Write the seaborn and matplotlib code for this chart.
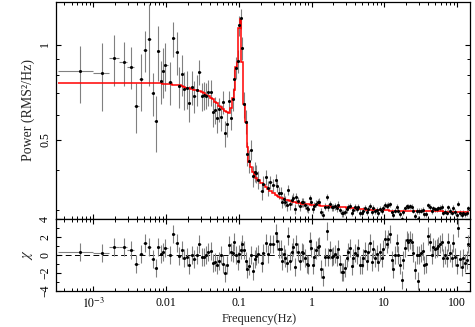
import numpy as np
import matplotlib
matplotlib.use('Agg')
import matplotlib.pyplot as plt
import seaborn as sns
from matplotlib.ticker import FixedLocator, FixedFormatter, NullFormatter, LogLocator, MultipleLocator

# Power spectrum
# frequency of each bin (Hz)
freq = [0.00065, 0.0013, 0.00195, 0.0026, 0.00325, 0.0039, 0.00455, 0.0052, 0.00585, 0.0065,
        0.00715, 0.0078, 0.00845, 0.0091, 0.00975,
        0.01131, 0.01256, 0.01390, 0.01519, 0.01644, 0.01774, 0.01908, 0.02078, 0.02249, 0.02443,
        0.02636, 0.02862, 0.03088, 0.03343, 0.03583, 0.03806, 0.04107, 0.04346, 0.04706, 0.04997,
        0.05375, 0.05726, 0.06141, 0.06480, 0.06883, 0.07401, 0.07811, 0.08243, 0.08671, 0.09153,
        0.09658, 0.1006, 0.1055, 0.1117, 0.1179, 0.1244, 0.1309, 0.1381, 0.1458, 0.1553,
        0.1644, 0.1740, 0.1837,
        0.2063, 0.2175, 0.2342, 0.2495, 0.2687, 0.2985, 0.3215, 0.3388, 0.3573, 0.3766,
        0.3971, 0.4185, 0.4366, 0.4554, 0.4800, 0.5061, 0.5336, 0.5565, 0.5929, 0.6185,
        0.6591, 0.6948, 0.7325, 0.7722, 0.8141, 0.8582, 0.9047, 0.9436, 0.9843, 1.038,
        1.094, 1.153, 1.216, 1.282, 1.351, 1.455, 1.534, 1.617, 1.705, 1.797,
        1.894, 1.997, 2.105, 2.220, 2.340, 2.467, 2.600, 2.742, 2.890, 3.047,
        3.212, 3.386, 3.570, 3.763, 3.967, 4.182, 4.409, 4.648, 4.898, 5.164,
        5.444, 5.739, 6.051, 6.378, 6.724, 7.088, 7.473, 7.877, 8.304, 8.754,
        9.229, 9.730, 10.26, 10.81, 11.40, 12.02, 12.67, 13.35, 14.08, 14.84,
        15.65, 16.49, 17.39, 18.33, 19.33, 20.37, 21.48, 22.64, 23.87, 25.16,
        26.53, 27.96, 29.17, 30.43, 32.08, 33.81, 35.65, 37.58, 40.04, 42.21,
        44.97, 47.41, 49.98, 52.69, 55.54, 58.56, 61.73, 65.07, 68.59, 72.33,
        76.24, 80.37, 84.72, 89.33, 94.17, 99.27, 104.6, 110.3, 116.3, 122.6,
        129.2, 136.3, 143.6]

# power (RMS^2/Hz)
power = [0.822, 0.814, 0.904, 0.878, 0.851, 0.639, 0.776, 0.961, 1.039, 0.704,
         0.573, 0.956, 0.767, 0.826, 0.861,
         0.763, 1.046, 0.949, 0.739, 0.807, 0.721, 0.727, 0.655, 0.732, 0.687,
         0.718, 0.817, 0.687, 0.692, 0.689, 0.706, 0.706, 0.610, 0.620, 0.584,
         0.624, 0.588, 0.659, 0.524, 0.560, 0.664, 0.585, 0.671, 0.778, 0.845,
         0.887, 1.15, 1.21, 0.973, 0.647, 0.570, 0.452, 0.428, 0.464, 0.384,
         0.396, 0.391, 0.373,
         0.345, 0.363, 0.380, 0.351, 0.367, 0.359, 0.374, 0.357, 0.339, 0.338,
         0.317, 0.325, 0.318, 0.311, 0.347, 0.312, 0.323, 0.328, 0.302, 0.329,
         0.319, 0.308, 0.317, 0.317, 0.310, 0.304, 0.302, 0.326, 0.318, 0.302,
         0.309, 0.314, 0.317, 0.318, 0.296, 0.289, 0.307, 0.329, 0.306, 0.312,
         0.305, 0.306, 0.308, 0.304, 0.311, 0.299, 0.292, 0.292, 0.295, 0.301,
         0.307, 0.309, 0.294, 0.300, 0.305, 0.302, 0.307, 0.294, 0.293, 0.298,
         0.304, 0.295, 0.302, 0.309, 0.295, 0.303, 0.297, 0.299, 0.294, 0.302,
         0.297, 0.304, 0.311, 0.308, 0.311, 0.312, 0.295, 0.288, 0.298, 0.306,
         0.298, 0.291, 0.281, 0.295, 0.303, 0.308, 0.307, 0.308, 0.307, 0.298,
         0.287, 0.297, 0.280, 0.297, 0.298, 0.300, 0.290, 0.291, 0.310, 0.306,
         0.297, 0.303, 0.301, 0.301, 0.303, 0.304, 0.306, 0.294, 0.296, 0.294,
         0.305, 0.297, 0.294, 0.304, 0.295, 0.289, 0.314, 0.293, 0.288, 0.294,
         0.291, 0.293, 0.303]

# 1-sigma error on the power
power_err = [0.17, 0.20, 0.165, 0.137, 0.13, 0.114, 0.16, 0.145, 0.30, 0.11,
             0.115, 0.19, 0.12, 0.15, 0.15,
             0.12, 0.13, 0.15, 0.11, 0.12, 0.10, 0.10, 0.085, 0.09, 0.08,
             0.08, 0.075, 0.07, 0.07, 0.065, 0.065, 0.065, 0.06, 0.06, 0.06,
             0.055, 0.055, 0.055, 0.05, 0.05, 0.05, 0.05, 0.055, 0.06, 0.07,
             0.075, 0.085, 0.09, 0.08, 0.06, 0.05, 0.04, 0.035, 0.033, 0.03,
             0.028, 0.026, 0.025,
             0.022, 0.021, 0.020, 0.019, 0.018, 0.017, 0.016, 0.016, 0.015, 0.015,
             0.014, 0.014, 0.013, 0.013, 0.012, 0.012, 0.012, 0.011, 0.011, 0.011,
             0.010, 0.010, 0.010, 0.010, 0.009, 0.009, 0.009, 0.009, 0.009, 0.008,
             0.008, 0.008, 0.008, 0.008, 0.008, 0.008, 0.008, 0.008, 0.008, 0.008,
             0.008, 0.008, 0.008, 0.008, 0.008, 0.007, 0.007, 0.007, 0.007, 0.007,
             0.007, 0.007, 0.007, 0.007, 0.007, 0.007, 0.007, 0.007, 0.007, 0.007,
             0.007, 0.007, 0.007, 0.007, 0.007, 0.007, 0.007, 0.007, 0.007, 0.007,
             0.007, 0.007, 0.007, 0.007, 0.007, 0.006, 0.006, 0.006, 0.006, 0.006,
             0.006, 0.006, 0.006, 0.006, 0.006, 0.006, 0.006, 0.006, 0.006, 0.006,
             0.006, 0.006, 0.006, 0.006, 0.006, 0.006, 0.006, 0.006, 0.006, 0.006,
             0.006, 0.006, 0.006, 0.006, 0.006, 0.006, 0.006, 0.006, 0.006, 0.006,
             0.006, 0.006, 0.006, 0.006, 0.006, 0.006, 0.006, 0.006, 0.006, 0.006,
             0.006, 0.006, 0.006]

# best-fit model, one value per bin
model = [0.757, 0.757, 0.757, 0.757, 0.757, 0.757, 0.757, 0.756, 0.756, 0.755,
         0.755, 0.754, 0.753, 0.752, 0.751,
         0.749, 0.747, 0.745, 0.742, 0.738, 0.734, 0.730, 0.726, 0.723, 0.720,
         0.716, 0.712, 0.706, 0.700, 0.693, 0.686, 0.678, 0.671, 0.660, 0.651,
         0.641, 0.632, 0.623, 0.616, 0.610, 0.606, 0.630, 0.676, 0.718, 0.850,
         0.880, 1.13, 1.20, 0.880, 0.650, 0.570, 0.475, 0.425, 0.410, 0.396,
         0.386, 0.378, 0.372,
         0.364, 0.359, 0.354, 0.350, 0.345, 0.339, 0.335, 0.332, 0.330, 0.328,
         0.326, 0.324, 0.323, 0.322, 0.321, 0.320, 0.319, 0.318, 0.317, 0.316,
         0.315, 0.315, 0.314, 0.314, 0.313, 0.313, 0.312, 0.312, 0.311, 0.311,
         0.311, 0.310, 0.310, 0.310, 0.309, 0.309, 0.309, 0.308, 0.308, 0.308,
         0.307, 0.307, 0.307, 0.306, 0.306, 0.306, 0.305, 0.305, 0.305, 0.304,
         0.304, 0.304, 0.303, 0.303, 0.303, 0.302, 0.302, 0.302, 0.301, 0.301,
         0.301, 0.300, 0.300, 0.300, 0.300, 0.299, 0.299, 0.299, 0.299, 0.299,
         0.299, 0.299, 0.299, 0.299, 0.299, 0.298, 0.298, 0.298, 0.298, 0.298,
         0.298, 0.298, 0.298, 0.298, 0.298, 0.298, 0.298, 0.298, 0.298, 0.297,
         0.297, 0.297, 0.297, 0.297, 0.297, 0.297, 0.297, 0.297, 0.297, 0.297,
         0.297, 0.297, 0.297, 0.297, 0.297, 0.297, 0.297, 0.296, 0.296, 0.296,
         0.296, 0.296, 0.296, 0.296, 0.296, 0.296, 0.296, 0.296, 0.296, 0.296,
         0.296, 0.296, 0.296]

# residuals (data - model) / error
chi = [0.37, 0.26, 0.85, 0.85, 0.60, -1.03, 0.08, 1.30, 0.85, -0.45,
       -1.48, 0.93, 0.08, 0.37, 0.74,
       0.00, 2.30, 1.33, -0.07, 0.56, -0.30, -0.22, -1.10, 0.00, -0.48,
       0.00, 1.26, -0.26, -0.19, 0.00, 0.37, 0.44, -0.93, -0.82, -1.10,
       -0.67, 0.00, -1.00, -2.00, -1.10, 1.10, 0.37, 0.20, 1.40, 0.00,
       -0.67, 0.10, 0.60, 1.20, 0.56, -0.67, -1.55, -1.20, 0.00, -1.74,
       -0.50, -0.07, 0.15,
       -0.85, 0.19, 1.30, 0.07, 1.22, 1.19, 2.41, 1.56, 0.63, 0.67,
       -0.67, 0.07, -0.37, -0.85, 2.15, -0.63, 0.37, 0.93, -1.37, 1.19,
       0.37, -0.67, 0.30, 0.26, -0.30, -1.00, -1.11, 1.56, 0.74, -1.11,
       -0.26, 0.56, 0.93, 1.04, -1.59, -2.48, -0.19, 2.67, -0.19, 0.56,
       -0.19, -0.07, 0.11, -0.19, 0.63, -1.04, -1.85, -1.85, -1.41, -0.37,
       0.37, 0.74, -1.22, -0.37, 0.26, 0.00, 0.74, -1.11, -1.11, -0.37,
       0.44, -0.67, 0.30, 1.30, -0.74, 0.63, -0.30, 0.07, -0.74, 0.37,
       -0.30, 0.67, 1.74, 1.22, 1.78, 2.33, -0.56, -1.59, 0.00, 1.30,
       0.00, -1.11, -2.78, -0.56, 0.81, 1.67, 1.48, 1.67, 1.48, 0.19,
       -1.67, 0.00, -2.89, 0.00, 0.19, 0.44, -1.11, -1.04, 2.11, 1.48,
       0.00, 0.93, 0.67, 0.74, 1.00, 1.19, 1.48, -0.30, 0.00, -0.30,
       1.48, 0.19, -0.37, 1.37, -0.19, -1.11, 2.96, -0.48, -1.30, -0.37,
       -0.85, -0.56, 1.19]

# ---- style: pgplot-like look
sns.set_theme(style='ticks')
plt.rcParams['font.family'] = ['Liberation Serif', 'DejaVu Serif']
plt.rcParams.update({
    'mathtext.fontset': 'stix',
    'font.size': 8.5,
    'axes.edgecolor': 'black',
    'axes.linewidth': 0.9,
    'xtick.direction': 'in', 'ytick.direction': 'in',
    'xtick.top': True, 'ytick.right': True,
    'xtick.color': 'black', 'ytick.color': 'black',
    'xtick.major.size': 3.8, 'ytick.major.size': 3.8,
    'xtick.minor.size': 1.9, 'ytick.minor.size': 1.9,
    'xtick.major.width': 0.8, 'ytick.major.width': 0.8,
    'xtick.minor.width': 0.7, 'ytick.minor.width': 0.7,
    'xtick.labelsize': 8.5, 'ytick.labelsize': 8.5,
    'xtick.major.pad': 4, 'ytick.major.pad': 3.5,
})

f = np.array(freq)
# bin edges halfway between neighbouring frequencies
mids = (f[1:] + f[:-1]) / 2
edges = np.concatenate([[f[0] - (f[1] - f[0]) / 2], mids, [f[-1] + (f[-1] - f[-2]) / 2]])
xerr = [f - edges[:-1], edges[1:] - f]

fig = plt.figure(figsize=(4.75, 3.27), dpi=100)
ax1 = fig.add_axes([0.1179, 0.3303, 0.8716, 0.6651])
ax2 = fig.add_axes([0.1179, 0.1101, 0.8716, 0.2202], sharex=ax1)

# top panel: data + model
ax1.errorbar(freq, power, yerr=power_err, xerr=xerr, fmt='none',
             ecolor='0.5', elinewidth=0.8, capsize=0, zorder=1)
ax1.stairs(model, edges, baseline=None, color='red', lw=1.1, zorder=2)
sns.scatterplot(x=freq, y=power, ax=ax1, color='black', s=5, linewidth=0, zorder=3)

ax1.set_xscale('log')
ax1.set_yscale('log')
ax1.set_xlim(3.06e-4, 151)
ax1.set_ylim(0.2805, 1.368)
ax1.yaxis.set_major_locator(FixedLocator([0.5, 1]))
ax1.yaxis.set_major_formatter(FixedFormatter(['0.5', '1']))
ax1.yaxis.set_minor_locator(FixedLocator([0.3, 0.4, 0.6, 0.7, 0.8, 0.9]))
ax1.yaxis.set_minor_formatter(NullFormatter())
ax1.tick_params(axis='x', which='both', labelbottom=False)
ax1.tick_params(axis='y', labelrotation=90)
ax1.set_ylabel('Power (RMS²/Hz)', fontsize=10)
ax1.yaxis.set_label_coords(-0.05, 0.5)

# bottom panel: residuals
ax2.axhline(0, color='black', lw=0.7, ls=(0, (6, 3.5)), zorder=1)
ax2.errorbar(freq, chi, yerr=1, xerr=xerr, fmt='none',
             ecolor='0.5', elinewidth=0.8, capsize=0, zorder=2)
sns.scatterplot(x=freq, y=chi, ax=ax2, color='black', s=5, linewidth=0, zorder=3)
ax2.set_ylim(-4, 4)
ax2.yaxis.set_major_locator(FixedLocator([-4, -2, 0, 2, 4]))
ax2.yaxis.set_minor_locator(MultipleLocator(1))
ax2.tick_params(axis='y', labelrotation=90)
ax2.set_ylabel(r'$\chi$', fontsize=10.5)
ax2.yaxis.set_label_coords(-0.05, 0.5)

ax2.xaxis.set_major_locator(FixedLocator([1e-3, 1e-2, 0.1, 1, 10, 100]))
ax2.xaxis.set_major_formatter(FixedFormatter([r'$10^{-3}$', '0.01', '0.1', '1', '10', '100']))
ax2.xaxis.set_minor_locator(LogLocator(base=10, subs=np.arange(2, 10), numticks=30))
ax2.xaxis.set_minor_formatter(NullFormatter())
ax2.set_xlabel('Frequency(Hz)', fontsize=9)
ax2.xaxis.set_label_coords(0.49, -0.30)

for ax in (ax1, ax2):
    for lab in ax.get_yticklabels():
        lab.set_va('center')

fig.savefig('out.png', dpi=100)
